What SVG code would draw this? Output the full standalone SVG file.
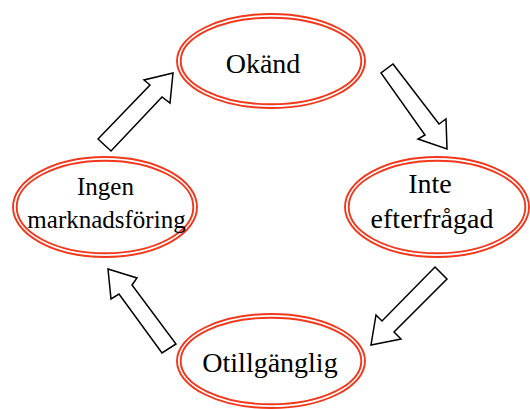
<svg xmlns="http://www.w3.org/2000/svg" width="530" height="409" viewBox="0 0 530 409">
  <style>
    .ring { fill: none; stroke: #f0381c; stroke-width: 1.9; }
    .label { font-family: "Liberation Serif", "Times New Roman", serif; fill: #000; text-anchor: middle; }
    .arrow { fill: #fff; stroke: #000; stroke-width: 1.5; stroke-linejoin: miter; }
  </style>
  <rect width="530" height="409" fill="#fff"/>

  <!-- cycle connectors: hollow block arrows -->
  <g id="connectors">
    <polygon class="arrow" points="393,64 439,124 446,119 447,149 418,139 425,135 381,73"/>
    <polygon class="arrow" points="435,267 447,279 394,332 401,339 371,345 376,315 382,321"/>
    <polygon class="arrow" points="108,269 137,278 132,285 176,344 162,353 119,294 111,299"/>
    <polygon class="arrow" points="98,139 150,85 144,80 173,73 170,103 162,97 111,151"/>
  </g>

  <g id="okand">
    <ellipse class="ring" cx="271" cy="61" rx="94" ry="47"/>
    <ellipse class="ring" cx="271" cy="61" rx="90.3" ry="43.3"/>
    <text class="label" x="263" y="73" font-size="28">Okänd</text>
  </g>

  <g id="inte-efterfragad">
    <ellipse class="ring" cx="437" cy="207" rx="92" ry="50"/>
    <ellipse class="ring" cx="437" cy="207" rx="88.3" ry="46.3"/>
    <text class="label" x="430" y="193" font-size="28">Inte</text>
    <text class="label" x="432" y="228" font-size="28">efterfrågad</text>
  </g>

  <g id="otillganglig">
    <ellipse class="ring" cx="271" cy="361" rx="94" ry="47"/>
    <ellipse class="ring" cx="271" cy="361" rx="90.3" ry="43.3"/>
    <text class="label" x="270" y="372" font-size="28">Otillgänglig</text>
  </g>

  <g id="ingen-marknadsforing">
    <ellipse class="ring" cx="105" cy="207" rx="92" ry="50"/>
    <ellipse class="ring" cx="105" cy="207" rx="88.3" ry="46.3"/>
    <text class="label" x="105.5" y="195" font-size="25">Ingen</text>
    <text class="label" x="106.5" y="228" font-size="25">marknadsföring</text>
  </g>
</svg>
